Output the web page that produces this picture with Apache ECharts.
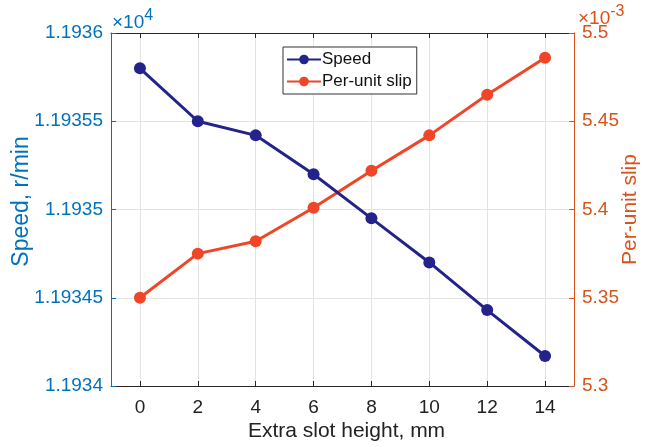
<!DOCTYPE html>
<html><head><meta charset="utf-8">
<script src="https://cdn.jsdelivr.net/npm/echarts@6/dist/echarts.min.js"></script>
<style>html,body{margin:0;padding:0;background:#fff}#c{width:657px;height:447px}</style>
</head><body><div id="c"></div>
<script>
var slotHeight = [0, 2, 4, 6, 8, 10, 12, 14];
var speed = [11935.8, 11935.5, 11935.42, 11935.2, 11934.95, 11934.7, 11934.43, 11934.17];
var slipE3 = [5.350, 5.375, 5.382, 5.401, 5.422, 5.442, 5.465, 5.486];
var xTicks = [0, 2, 4, 6, 8, 10, 12, 14];

var FONT = 'Liberation Sans, Arial, Helvetica, sans-serif';
var BLUE = '#0072BD', ORANGE = '#D95319', AX = '#262626';
var SPEEDC = '#23238C', SLIPC = '#F04526';
function clean(v){ return String(parseFloat(v.toFixed(6))); }

var chart = echarts.init(document.getElementById('c'), null, {renderer:'canvas'});
chart.setOption({
  animation:false,
  backgroundColor:'#fff',
  textStyle:{fontFamily:FONT},
  grid:{left:111, right:83, top:33, bottom:61, containLabel:false, outerBoundsMode:'none'},
  legend:{
    left:283, top:47, orient:'vertical', padding:[4,5,4,3], itemGap:5,
    itemWidth:34, itemHeight:12, borderColor:'#333', borderWidth:1, backgroundColor:'#fff',
    textStyle:{fontSize:17, color:'#111', fontFamily:FONT, padding:[0,0,0,-4]},
    data:['Speed','Per-unit slip']
  },
  xAxis:[{
    type:'value', min:-1, max:15,
    name:'Extra slot height, mm', nameLocation:'middle', nameGap:35, nameMoveOverlap:false,
    nameTextStyle:{fontSize:21, color:'#222', fontFamily:FONT, padding:[0,0,0,8]},
    axisLine:{show:true, onZero:false, lineStyle:{color:AX, width:1}},
    axisTick:{show:true, inside:true, length:5, customValues:xTicks, lineStyle:{color:AX}},
    axisLabel:{customValues:xTicks, fontSize:19, color:'#222', margin:12, fontFamily:FONT},
    splitLine:{show:true, lineStyle:{color:'#e3e3e3', width:1}}
  },{
    type:'value', min:-1, max:15, position:'top',
    axisLine:{show:true, onZero:false, lineStyle:{color:AX, width:1}},
    axisTick:{show:true, inside:true, length:5, customValues:xTicks, lineStyle:{color:AX}},
    axisLabel:{show:false}, splitLine:{show:false}
  }],
  yAxis:[{
    type:'value', min:11934, max:11936, interval:0.5, position:'left',
    name:'Speed, r/min', nameLocation:'middle', nameGap:78, nameMoveOverlap:false,
    nameTextStyle:{fontSize:23, color:BLUE, fontFamily:FONT, padding:[0,0,0,16]},
    axisLine:{show:true, onZero:false, lineStyle:{color:BLUE, width:1}},
    axisTick:{show:true, inside:true, length:5, lineStyle:{color:BLUE}},
    axisLabel:{fontSize:19, color:BLUE, margin:8, fontFamily:FONT,
      formatter:function(v){return clean(v/1e4);}},
    splitLine:{show:true, lineStyle:{color:'#e3e3e3', width:1}}
  },{
    type:'value', min:5.3, max:5.5, interval:0.05, position:'right',
    name:'Per-unit slip', nameLocation:'middle', nameGap:46, nameMoveOverlap:false,
    nameTextStyle:{fontSize:21, color:ORANGE, fontFamily:FONT},
    axisLine:{show:true, onZero:false, lineStyle:{color:ORANGE, width:1}},
    axisTick:{show:true, inside:true, length:5, lineStyle:{color:ORANGE}},
    axisLabel:{fontSize:19, color:ORANGE, margin:8, fontFamily:FONT,
      formatter:function(v){return clean(v);}},
    splitLine:{show:false}
  }],
  series:[{
    name:'Speed', type:'line', xAxisIndex:0, yAxisIndex:0,
    data:slotHeight.map(function(x,i){return [x, speed[i]];}),
    symbol:'circle', symbolSize:12, lineStyle:{color:SPEEDC, width:3},
    itemStyle:{color:SPEEDC}, z:3
  },{
    name:'Per-unit slip', type:'line', xAxisIndex:0, yAxisIndex:1,
    data:slotHeight.map(function(x,i){return [x, slipE3[i]];}),
    symbol:'circle', symbolSize:12, lineStyle:{color:SLIPC, width:3},
    itemStyle:{color:SLIPC}, z:2
  }],
  graphic:[{
    type:'text', left:112, top:8,
    style:{text:'{a|×10}{b|4}', fill:BLUE, font:'19px '+FONT,
      rich:{a:{fontSize:19, fill:BLUE, fontFamily:FONT, verticalAlign:'bottom'}, b:{fontSize:16, fill:BLUE, fontFamily:FONT, verticalAlign:'top', padding:[0,0,8,0]}}}
  },{
    type:'text', left:578, top:4,
    style:{text:'{a|×10}{b|-3}', fill:ORANGE, font:'19px '+FONT,
      rich:{a:{fontSize:19, fill:ORANGE, fontFamily:FONT, verticalAlign:'bottom'}, b:{fontSize:16, fill:ORANGE, fontFamily:FONT, verticalAlign:'top', padding:[0,0,8,0]}}}
  }]
});
</script></body></html>
